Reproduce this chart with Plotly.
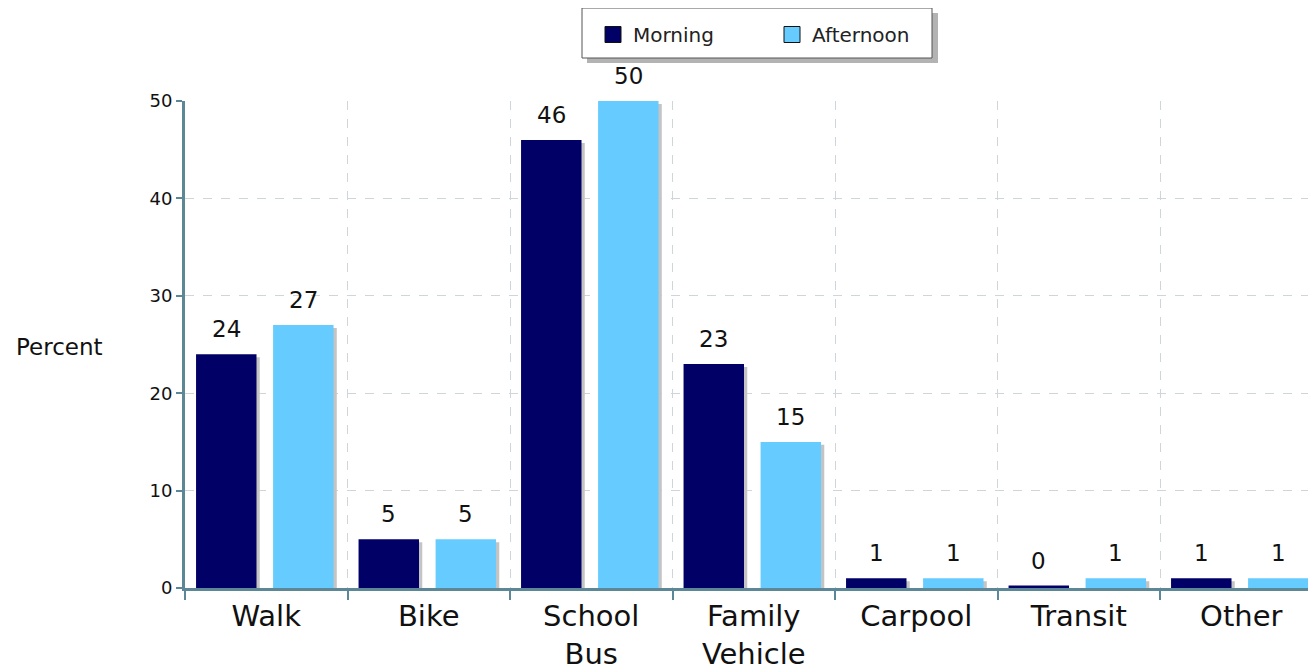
import plotly.graph_objects as go

modes = ["Walk", "Bike", "School<br>Bus", "Family<br>Vehicle", "Carpool", "Transit", "Other"]
morning = [24, 5, 46, 23, 1, 0.25, 1]
afternoon = [27, 5, 50, 15, 1, 1, 1]

navy = "#000066"
sky = "#66ccff"
axis_col = "#5b8796"
grid_col = "#cfd6da"
font = "DejaVu Sans"

# bar placement inside each category slot (category units)
w = 0.372
off_m = -0.432
off_a = 0.042
sh_dx = 0.02   # shadow shift right
sh_dy = 0.3    # shadow shift down

# page body has an 8px margin, so the figure is laid out 8px smaller
PAD = 8
W, H = 1316 - PAD, 669 - PAD
L, T, B = 185 - PAD, 101 - PAD, H - (588 - PAD)
pw, ph = W - L, H - T - B


def px_x(p):
    # page pixel -> paper x
    return (p - PAD - L) / pw


def px_y(p):
    # page pixel -> paper y
    return (H - B - (p - PAD)) / ph


fig = go.Figure()
for vals, off in [(morning, off_m), (afternoon, off_a)]:
    fig.add_trace(go.Bar(
        x=modes, y=[v - sh_dy for v in vals], width=w, offset=off + sh_dx,
        marker=dict(color="#c4c4c4", line=dict(width=0)),
        showlegend=False, hoverinfo="skip"))

fig.add_trace(go.Bar(x=modes, y=morning, width=w, offset=off_m, name="Morning",
                     marker=dict(color=navy, line=dict(width=0)), showlegend=False))
fig.add_trace(go.Bar(x=modes, y=afternoon, width=w, offset=off_a, name="Afternoon",
                     marker=dict(color=sky, line=dict(width=0)), showlegend=False))

# legend-only entries with bordered squares
for name, col in [("Morning", navy), ("Afternoon", sky)]:
    fig.add_trace(go.Scatter(x=[None], y=[None], mode="markers", name=name,
                             marker=dict(symbol="square", size=16, color=col,
                                         line=dict(color="#111111", width=1))))

annotations = []
for vals, off in [(morning, off_m), (afternoon, off_a)]:
    for i, v in enumerate(vals):
        annotations.append(dict(
            x=i + off + w / 2, y=v, xref="x", yref="y", text=f"{round(v)}",
            showarrow=False, yanchor="bottom", yshift=10,
            font=dict(family=font, size=23, color="#111111")))

annotations.append(dict(
    x=px_x(59), y=px_y(347), xref="paper", yref="paper", text="Percent",
    showarrow=False, xanchor="center", yanchor="middle",
    font=dict(family=font, size=23, color="#111111")))

fig.update_layout(
    width=W, height=H,
    margin=dict(l=L, r=0, t=T, b=B, autoexpand=False),
    paper_bgcolor="white", plot_bgcolor="white",
    barmode="overlay",
    font=dict(family=font, color="#111111"),
    legend=dict(orientation="h", x=px_x(593), xanchor="left",
                y=px_y(15), yanchor="top",
                bgcolor="rgba(0,0,0,0)", borderwidth=0,
                entrywidth=134, itemsizing="trace",
                font=dict(family=font, size=20, color="#222222")),
    xaxis=dict(
        type="category", tickson="boundaries",
        range=[-0.5, 6.46],
        showline=True, linecolor=axis_col, linewidth=3,
        ticks="outside", ticklen=9, tickwidth=2, tickcolor=axis_col,
        tickfont=dict(family=font, size=29, color="#111111"),
        showgrid=True, gridcolor=grid_col, griddash="dash", gridwidth=1),
    yaxis=dict(
        range=[0, 50], tickvals=[0, 10, 20, 30, 40, 50],
        showline=True, linecolor=axis_col, linewidth=3,
        ticks="outside", ticklen=6, tickwidth=2, tickcolor=axis_col,
        tickfont=dict(family=font, size=18, color="#111111"),
        showgrid=True, gridcolor=grid_col, griddash="dash", gridwidth=1,
        zeroline=False),
    annotations=annotations,
)

# legend box with drop shadow
fig.add_shape(type="rect", xref="paper", yref="paper",
              x0=px_x(587), x1=px_x(938), y0=px_y(63), y1=px_y(13),
              fillcolor="#b3b3b3", line=dict(width=0), layer="below")
fig.add_shape(type="rect", xref="paper", yref="paper",
              x0=px_x(582), x1=px_x(932), y0=px_y(58), y1=px_y(8),
              fillcolor="white", line=dict(color="#555555", width=1), layer="below")

fig.write_html("out.html")
